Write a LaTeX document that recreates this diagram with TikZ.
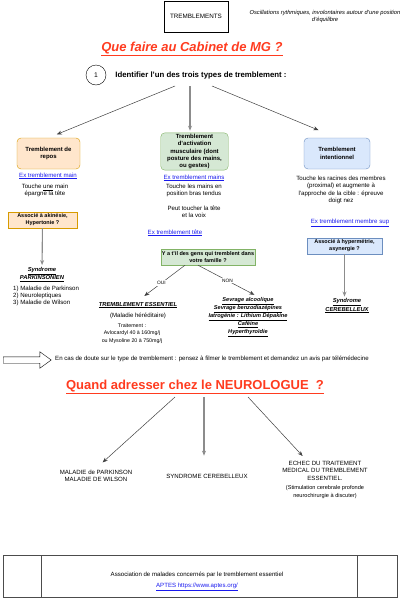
\documentclass[tikz,border=0pt]{standalone}
\usepackage{fontspec}
\setmainfont{Liberation Sans}
\usepackage{xcolor}
\usepackage{tikz}
\usetikzlibrary{arrows.meta,positioning,shapes.arrows,calc}
\definecolor{orangefond}{HTML}{FFE6CC}
\definecolor{orangebord}{HTML}{D79B00}
\definecolor{vertfond}{HTML}{D5E8D4}
\definecolor{vertbord}{HTML}{82B366}
\definecolor{bleufond}{HTML}{DAE8FC}
\definecolor{bleubord}{HTML}{6C8EBF}
\definecolor{rougetitre}{HTML}{FF3B1F}
\definecolor{lienbleu}{HTML}{1A1AEE}
\newcommand{\lien}[1]{\textcolor{lienbleu}{\underline{#1}}}
\newcommand{\souligne}[1]{\underline{#1}}
\tikzset{
    bloc/.style={
        rectangle,
        draw,
        align=center,
        inner sep=1pt,
        font=\bfseries\fontsize{6}{7.4}\selectfont
    },
    typeRepos/.style={bloc, rounded corners=4pt, fill=orangefond, draw=orangebord},
    typeActivation/.style={bloc, rounded corners=4pt, fill=vertfond, draw=vertbord},
    typeIntention/.style={bloc, rounded corners=4pt, fill=bleufond, draw=bleubord},
    question/.style={bloc, font=\bfseries\fontsize{5.5}{7}\selectfont},
    texte/.style={align=center, inner sep=1pt, font=\fontsize{6.1}{7.3}\selectfont},
    mini/.style={align=center, inner sep=1pt, font=\fontsize{5.3}{7.6}\selectfont},
    syndrome/.style={align=center, inner sep=1pt, font=\bfseries\itshape\fontsize{5.8}{7.2}\selectfont},
    titre/.style={inner sep=1pt, text=rougetitre, font=\bfseries\fontsize{13}{15}\selectfont},
    fleche/.style={-{Stealth[length=5pt,width=4pt]}, draw=black!75, line width=0.5pt},
    flecheGrise/.style={-{Stealth[length=5pt,width=4pt]}, draw=black!45, line width=1.1pt}
}

\begin{document}
\begin{tikzpicture}[x=1pt, y=-1pt]
    \useasboundingbox (0,0) rectangle (404,600);

    % en-tete
    \node[draw, minimum width=64pt, minimum height=31pt, font=\fontsize{6.3}{7.5}\selectfont] (tremb) at (196,16.5) {TREMBLEMENTS};
    \node[texte, font=\itshape\fontsize{5.8}{7}\selectfont] (definition) at (325,16.5) {Oscillations rythmiques, involontaires autour d'une position\\d'équilibre};
    \node[titre, font=\bfseries\itshape\fontsize{13}{15}\selectfont] (cabinet) at (192,49) {\souligne{Que faire au Cabinet de MG ?}};
    \node[draw, circle, minimum size=20pt, inner sep=0pt, font=\fontsize{6.8}{8}\selectfont] (etape) at (96,75) {1};
    \node[inner sep=1pt, font=\bfseries\fontsize{7.8}{9}\selectfont] (identifier) at (201,75) {Identifier l'un des trois types de tremblement :};

    \coordinate (d1) at (175,86);
    \coordinate (d2) at (190,86);
    \coordinate (d3) at (212,86);

    % trois types
    \node[typeRepos, minimum width=63pt, minimum height=31pt] (repos) at (48.5,153.5) {Tremblement de\\repos};
    \node[typeActivation, minimum width=67.5pt, minimum height=37pt] (activation) at (194.5,151.5) {Tremblement\\d'activation\\musculaire (dont\\posture des mains,\\ou gestes)};
    \node[typeIntention, minimum width=66pt, minimum height=31pt] (intention) at (337,153.5) {Tremblement\\intentionnel};

    \draw[fleche, shorten >=9pt] (d1) -- (repos.north);
    \draw[flecheGrise, shorten >=2pt] (d2) -- (d2 |- activation.north);
    \draw[fleche, shorten >=20pt] (d3) -- (intention.north);

    % colonne repos
    \node[texte] (exMain) at (48,176) {\lien{Ex tremblement main}};
    \node[texte] (reposTxt) at (45,190.5) {Touche \underline{une} main\\épargne la tête};
    \node[question, fill=orangefond, draw=orangebord, minimum width=69pt, minimum height=16pt] (akinesie) at (42.5,220) {Associé à akinésie,\\Hypertonie ?};
    \node[syndrome] (parkinsonien) at (42,274.5) {\souligne{Syndrome}\\\souligne{PARKINSONIEN}};
    \node[texte, align=left, anchor=west] (causesPark) at (12,296) {1) Maladie de Parkinson\\2) Neuroleptiques\\3) Maladie de Wilson};
    \draw[flecheGrise, shorten >=1pt] (akinesie) -- (parkinsonien);

    % colonne activation
    \node[texte] (exMains) at (194,178) {\lien{Ex tremblement mains}};
    \node[texte] (activationTxt) at (194,190.5) {Touche les mains en\\position bras tendus};
    \node[texte] (voix) at (194,211.5) {Peut toucher la tête\\et la voix};
    \node[texte] (exTete) at (175,233) {\lien{Ex tremblement tête}};
    \node[question, fill=vertfond, draw=vertbord, minimum width=90pt, minimum height=16pt] (famille) at (208,257) {Y a t'il des gens qui tremblent dans\\votre famille ?};
    \node[syndrome] (essentiel) at (138,305) {\souligne{TREMBLEMENT ESSENTIEL}};
    \node[texte] (hereditaire) at (138,316) {(Maladie héréditaire)};
    \node[mini] (traitement) at (132,333.5) {Traitement :\\Avlocardyl 40 à 160mg/j\\ou Mysoline 20 à 750mg/j};
    \node[syndrome, font=\bfseries\itshape\fontsize{5.6}{8}\selectfont] (autres) at (248,317) {\souligne{Sevrage alcoolique}\\\souligne{Sevrage benzodiazépines}\\\souligne{Iatrogénie : Lithium Dépakine}\\\souligne{Caféine}\\\souligne{Hyperthyroïdie}};

    \draw[fleche, shorten >=8pt] ([xshift=-23pt]famille.south) -- node[fill=white, inner sep=1pt, font=\fontsize{4.8}{5}\selectfont] {OUI} (essentiel.north);
    \draw[fleche, shorten >=3pt] ([xshift=-10pt]famille.south) -- node[fill=white, inner sep=1pt, font=\fontsize{4.8}{5}\selectfont] {NON} ([xshift=9pt]autres.north);

    % colonne intention
    \node[texte] (intentionTxt) at (341,190) {Touche les racines des membres\\(proximal) et augmente à\\l'approche de la cible : épreuve\\doigt nez};
    \node[texte] (exSup) at (350,223) {\lien{Ex tremblement membre sup}};
    \node[question, fill=bleufond, draw=bleubord, minimum width=75pt, minimum height=16pt] (hypermetrie) at (344.5,246) {Associé à hypermétrie,\\asynergie ?};
    \node[syndrome] (cerebelleux) at (347,306) {\souligne{Syndrome}\\\souligne{CEREBELLEUX}};
    \draw[flecheGrise, shorten >=1pt] (hypermetrie) -- (hypermetrie |- cerebelleux.north);

    % doute
    \node[single arrow, draw, fill=white, minimum width=16pt, minimum height=48pt, single arrow head extend=5pt, single arrow tip angle=72, inner xsep=0pt, inner ysep=3pt] (flecheDoute) at (25,360) {};
    \node[texte, anchor=west] (doute) at (54,359) {En cas de doute sur le type de tremblement : pensez à filmer le tremblement et demandez un avis par télémédecine};

    % neurologue
    \node[titre] (neurologue) at (195,387) {\souligne{Quand adresser chez le NEUROLOGUE\ \ ?}};
    \coordinate (n1) at (175,397);
    \coordinate (n2) at (204,397);
    \coordinate (n3) at (248,397);
    \node[texte] (maladies) at (96,475.5) {MALADIE de PARKINSON\\MALADIE DE WILSON};
    \node[texte] (cerebBas) at (207,476) {SYNDROME CEREBELLEUX};
    \node[texte, font=\fontsize{6.1}{7.5}\selectfont] (echec) at (325,470.5) {ECHEC DU TRAITEMENT\\MEDICAL DU TREMBLEMENT\\ESSENTIEL.};
    \node[mini, font=\fontsize{5.6}{8}\selectfont] (stimulation) at (325,492) {(Stimulation cerebrale profonde\\neurochirurgie à discuter)};

    \draw[fleche, shorten >=9pt] (n1) -- (maladies.north);
    \draw[flecheGrise, shorten >=17pt] (n2) -- (n2 |- cerebBas.north);
    \draw[fleche, shorten >=5pt] (n3) -- ([xshift=-19pt]echec.north);

    % association
    \draw[draw=black!70] (3,555) rectangle (397,597);
    \draw[draw=black!70] (41,555) -- (41,597);
    \draw[draw=black!70] (357,555) -- (357,597);
    \node[texte, font=\fontsize{6.1}{10.5}\selectfont] (aptes) at (197,581.5) {Association de malades concernés par le tremblement essentiel\\\lien{APTES https://www.aptes.org/}};
\end{tikzpicture}
\end{document}
